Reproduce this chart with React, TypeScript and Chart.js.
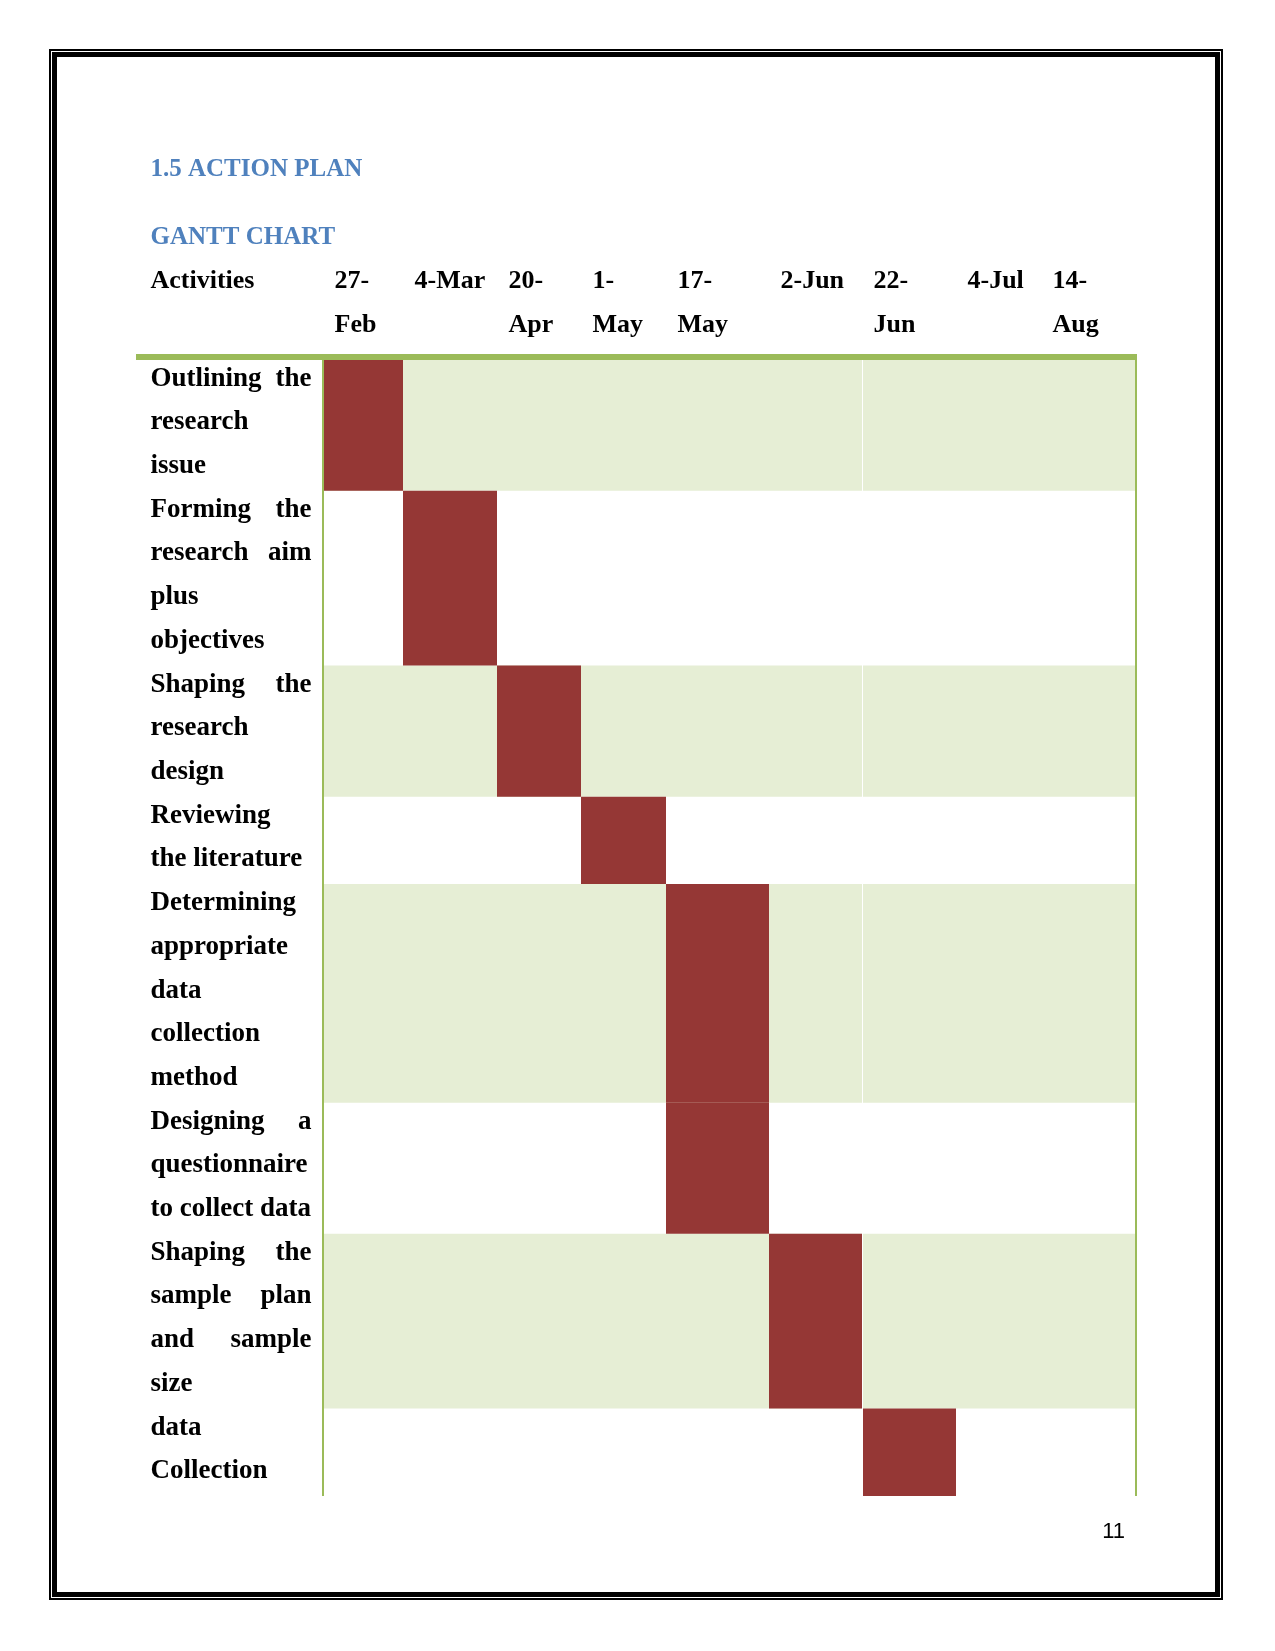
import React, { useEffect, useRef } from "react";
import { Chart, registerables, LinearScale } from "chart.js";

// ---------- data ----------
const SECTION_TITLE = "1.5 ACTION PLAN";
const CHART_TITLE = "GANTT CHART";
const HEADER_TITLE = "Activities";
const PAGE_NUMBER = "11";

const PERIODS = ["27-Feb", "4-Mar", "20-Apr", "1-May", "17-May", "2-Jun", "22-Jun", "4-Jul", "14-Aug"];
const PERIOD_LABEL_LINES = [
  ["27-", "Feb"],
  ["4-Mar"],
  ["20-", "Apr"],
  ["1-", "May"],
  ["17-", "May"],
  ["2-Jun"],
  ["22-", "Jun"],
  ["4-Jul"],
  ["14-", "Aug"],
];

const ACTIVITY_LINES = [
  ["Outlining the", "research", "issue"],
  ["Forming the", "research aim", "plus", "objectives"],
  ["Shaping the", "research", "design"],
  ["Reviewing", "the literature"],
  ["Determining", "appropriate", "data", "collection", "method"],
  ["Designing a", "questionnaire", "to collect data"],
  ["Shaping the", "sample plan", "and sample", "size"],
  ["data", "Collection"],
];
// period index where each activity starts / ends (exclusive)
const START_PERIOD = [0, 1, 2, 3, 4, 4, 5, 6];
const END_PERIOD = [1, 2, 3, 4, 5, 5, 6, 7];

// ---------- style / layout ----------
const RED = "#953735";
const SHADE = "#E6EED5";
const GREEN = "#9BBB59";
const BLUE = "#4F81BD";
const SERIF = '"Liberation Serif", "Times New Roman", serif';
// table column widths (label column first, then one per period)
const COLUMN_WIDTHS = [184, 80, 94, 84, 85, 103, 93, 94, 85, 95];
const CELL_PAD = 11.5;
const LINE_BASELINE = 26;
const WHITE_DIVIDER_AT = 6;

class ColumnScale extends LinearScale {
  static id = "column";
  getPixelForValue(value: any) {
    if (value === null || value === undefined || isNaN(value)) return NaN;
    const total = COLUMN_WIDTHS.reduce((a, b) => a + b, 0);
    const rel = Number(value) - (this as any).min;
    const k = Math.max(0, Math.min(COLUMN_WIDTHS.length - 1, Math.floor(rel)));
    let acc = 0;
    for (let i = 0; i < k; i++) acc += COLUMN_WIDTHS[i];
    acc += (rel - k) * COLUMN_WIDTHS[k];
    return (this as any).getPixelForDecimal(acc / total);
  }
}

Chart.register(...registerables, ColumnScale as any);

const textPlugin = {
  id: "pageText",
  afterDraw(chart: any) {
    const { ctx } = chart;
    const xs = chart.scales.x;
    const ys = chart.scales.y;
    const left = xs.getPixelForValue(-1) + CELL_PAD;
    const right = xs.getPixelForValue(0) - CELL_PAD;
    ctx.save();
    ctx.textBaseline = "alphabetic";
    ctx.textAlign = "left";
    ctx.fillStyle = BLUE;
    ctx.font = `bold 25px ${SERIF}`;
    ctx.fillText(SECTION_TITLE, left, 176);
    ctx.fillText(CHART_TITLE, left, 244);

    ctx.fillStyle = "#000";
    ctx.font = `bold 27px ${SERIF}`;
    let line = 0;
    ACTIVITY_LINES.forEach((lines) => {
      lines.forEach((txt, j) => {
        const y = ys.getPixelForValue(line) + LINE_BASELINE;
        const words = txt.split(" ");
        if (j < lines.length - 1 && words.length > 1) {
          const widths = words.map((w) => ctx.measureText(w).width);
          const sum = widths.reduce((a, b) => a + b, 0);
          const gap = (right - left - sum) / (words.length - 1);
          let x = left;
          words.forEach((w, k) => {
            ctx.fillText(w, x, y);
            x += widths[k] + gap;
          });
        } else {
          ctx.fillText(txt, left, y);
        }
        line++;
      });
    });

    ctx.font = '22px "Liberation Sans", Arial, sans-serif';
    ctx.textAlign = "right";
    ctx.fillText(PAGE_NUMBER, 1125, 1538);
    ctx.restore();
  },
};

export default function App() {
  const ref = useRef<HTMLCanvasElement>(null);

  useEffect(() => {
    if (!ref.current) return;
    const rowStarts: number[] = [];
    let acc = 0;
    ACTIVITY_LINES.forEach((l) => {
      rowStarts.push(acc);
      acc += l.length;
    });
    const totalLines = acc;
    const nPeriods = PERIODS.length;

    const shadeSets = ACTIVITY_LINES.map((l, i) => ({ l, i }))
      .filter(({ i }) => i % 2 === 0)
      .map(({ l, i }) => ({
        label: "band" + i,
        data: [
          { x: 0, y: rowStarts[i] },
          { x: nPeriods, y: rowStarts[i] },
        ],
        fill: { value: rowStarts[i] + l.length },
        backgroundColor: SHADE,
        borderColor: "rgba(0,0,0,0)",
        borderWidth: 0,
        pointRadius: 0,
        order: 2,
      }));

    const barSets = ACTIVITY_LINES.map((l, i) => ({
      label: PERIODS[START_PERIOD[i]] + " " + l.join(" "),
      data: [
        { x: START_PERIOD[i], y: rowStarts[i] },
        { x: END_PERIOD[i], y: rowStarts[i] },
      ],
      fill: { value: rowStarts[i] + l.length },
      backgroundColor: RED,
      borderColor: "rgba(0,0,0,0)",
      borderWidth: 0,
      pointRadius: 0,
      order: 1,
    }));

    const headerLabels = [[HEADER_TITLE], ...PERIOD_LABEL_LINES];

    const chart = new Chart(ref.current, {
      type: "line",
      data: { datasets: [...barSets, ...shadeSets] as any },
      options: {
        responsive: false,
        animation: false,
        devicePixelRatio: 1,
        events: [],
        layout: { padding: { left: 139, right: 139, top: 357 - 110, bottom: 155 } },
        plugins: { legend: { display: false }, tooltip: { enabled: false } },
        scales: {
          x: {
            type: "column" as any,
            position: "top",
            min: -1,
            max: nPeriods,
            afterBuildTicks: (s: any) => {
              const t = [];
              for (let v = -1; v <= nPeriods; v++) t.push({ value: v });
              s.ticks = t;
            },
            afterFit: (s: any) => {
              s.height = 110;
            },
            border: { display: true, color: GREEN, width: 6, z: 2 },
            grid: {
              z: 1,
              drawTicks: false,
              color: (c: any) => {
                const v = c.tick ? c.tick.value : null;
                if (v === 0 || v === nPeriods) return GREEN;
                if (v === WHITE_DIVIDER_AT) return "#ffffff";
                return "rgba(0,0,0,0)";
              },
              lineWidth: (c: any) => {
                const v = c.tick ? c.tick.value : null;
                return v === 0 || v === nPeriods ? 2 : 1;
              },
            },
            ticks: {
              autoSkip: false,
              maxRotation: 0,
              minRotation: 0,
              align: "start",
              labelOffset: CELL_PAD,
              padding: 10,
              color: "#000",
              font: { family: SERIF, size: 26, weight: "bold", lineHeight: "43.8px" } as any,
              callback: (value: any) => {
                const lbl = headerLabels[Number(value) + 1];
                if (!lbl) return ["", ""];
                return lbl.length === 1 ? [lbl[0], ""] : lbl;
              },
            },
          } as any,
          y: {
            type: "linear",
            min: -0.06,
            max: totalLines,
            reverse: true,
            display: false,
          },
        },
      },
      plugins: [textPlugin],
    });
    return () => chart.destroy();
  }, []);

  return (
    <div style={{ position: "absolute", left: 0, top: 0, width: 1275, height: 1651, background: "#fff" }}>
      <div
        style={{
          position: "absolute",
          left: 49,
          top: 49,
          width: 1174,
          height: 1551,
          border: "2px solid #000",
          boxSizing: "border-box",
        }}
      />
      <div
        style={{
          position: "absolute",
          left: 52,
          top: 52,
          width: 1168,
          height: 1545,
          border: "5px solid #000",
          boxSizing: "border-box",
        }}
      />
      <canvas ref={ref} width={1275} height={1651} style={{ position: "absolute", left: 0, top: 0 }} />
    </div>
  );
}
